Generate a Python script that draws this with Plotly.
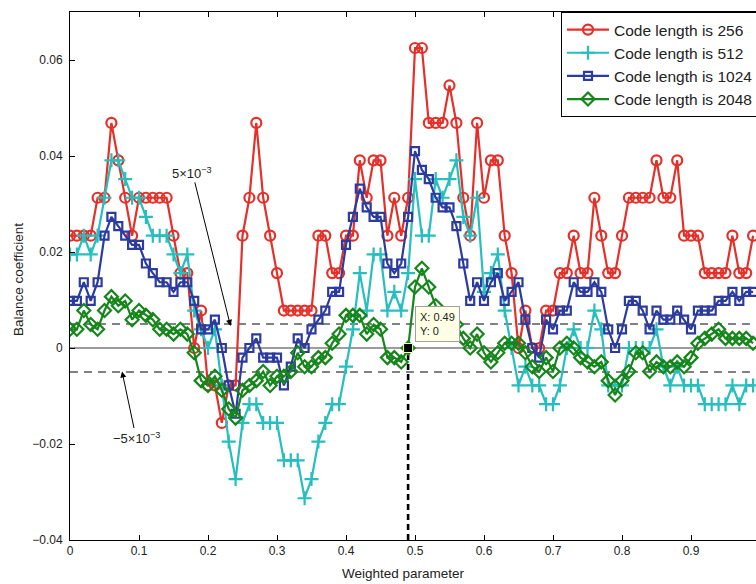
import plotly.graph_objects as go

# ---------------- data ----------------
x_values = [round(i * 0.01, 2) for i in range(100)]

code_256 = [
    0.0234, 0.0234, 0.0234, 0.0234, 0.0313, 0.0313, 0.0469, 0.0391, 0.0313, 0.0234,
    0.0313, 0.0313, 0.0313, 0.0313, 0.0313, 0.0234, 0.0156, 0.0156, 0, 0.0078,
    -0.0078, -0.0078, -0.0156, -0.0078, -0.0078, 0.0234, 0.0313, 0.0469, 0.0313, 0.0234,
    0.0156, 0.0078, 0.0078, 0.0078, 0.0078, 0.0078, 0.0234, 0.0234, 0.0156, 0.0156,
    0.0234, 0.0234, 0.0391, 0.0313, 0.0391, 0.0391, 0.0234, 0.0313, 0.0234, 0.0313,
    0.0625, 0.0625, 0.0469, 0.0469, 0.0469, 0.0547, 0.0469, 0.0313, 0.0234, 0.0469,
    0.0313, 0.0391, 0.0391, 0.0234, 0.0156, 0, 0.0078, 0, 0, 0.0078,
    0.0078, 0.0156, 0.0156, 0.0234, 0.0156, 0.0156, 0.0313, 0.0234, 0.0156, 0.0156,
    0.0234, 0.0313, 0.0313, 0.0313, 0.0313, 0.0391, 0.0313, 0.0313, 0.0391, 0.0234,
    0.0234, 0.0234, 0.0156, 0.0156, 0.0156, 0.0156, 0.0234, 0.0156, 0.0156, 0.0234,
]

code_512 = [
    0.0195, 0.0195, 0.0234, 0.0195, 0.0234, 0.0313, 0.0391, 0.0391, 0.0352, 0.0313,
    0.0313, 0.0273, 0.0234, 0.0234, 0.0234, 0.0195, 0.0156, 0.0195, 0.0078, 0.0039,
    0, 0.0039, -0.0078, -0.0195, -0.0273, -0.0156, -0.0117, -0.0117, -0.0156, -0.0156,
    -0.0156, -0.0234, -0.0234, -0.0234, -0.0313, -0.0273, -0.0195, -0.0156, -0.0117, -0.0117,
    -0.0039, 0.0039, 0.0156, 0.0078, 0.0195, 0.0195, 0.0078, 0.0117, 0.0078, 0.0156,
    0.0352, 0.0234, 0.0234, 0.0352, 0.0313, 0.0352, 0.0391, 0.0273, 0.0234, 0.0313,
    0.0117, 0.0156, 0.0195, 0.0078, 0, -0.0078, -0.0039, -0.0078, -0.0078, -0.0117,
    -0.0117, -0.0078, 0, 0.0039, 0, 0, 0.0078, 0.0039, -0.0078, -0.0078,
    -0.0078, 0, 0, 0, 0, 0.0039, -0.0039, -0.0078, -0.0039, -0.0078,
    -0.0078, -0.0078, -0.0117, -0.0117, -0.0117, -0.0117, -0.0078, -0.0117, -0.0078, -0.0078,
]

code_1024 = [
    0.0098, 0.0098, 0.0137, 0.0098, 0.0137, 0.0234, 0.0273, 0.0254, 0.0234, 0.0215,
    0.0215, 0.0176, 0.0156, 0.0137, 0.0137, 0.0117, 0.0137, 0.0137, 0.0098, 0.0039,
    0.0039, 0.0059, 0, -0.0078, -0.0137, -0.0020, 0, 0.0020, -0.0020, -0.0020,
    -0.0020, -0.0078, -0.0039, 0.0020, 0, 0.0039, 0.0059, 0.0078, 0.0117, 0.0117,
    0.0215, 0.0273, 0.0332, 0.0293, 0.0273, 0.0273, 0.0176, 0.0156, 0.0176, 0.0273,
    0.0410, 0.0371, 0.0352, 0.0313, 0.0293, 0.0293, 0.0254, 0.0176, 0.0098, 0.0137,
    0.0098, 0.0137, 0.0156, 0.0098, 0.0117, 0.0137, 0.0059, 0, -0.0020, 0.0059,
    0.0039, 0.0078, 0.0078, 0.0137, 0.0117, 0.0117, 0.0137, 0.0117, 0.0039, 0,
    0.0039, 0.0098, 0.0098, 0.0078, 0.0039, 0.0078, 0.0059, 0.0059, 0.0078, 0.0059,
    0.0039, 0.0078, 0.0078, 0.0078, 0.0098, 0.0098, 0.0117, 0.0098, 0.0117, 0.0117,
]

code_2048 = [
    0.0039, 0.0039, 0.0078, 0.0049, 0.0039, 0.0078, 0.0107, 0.0088, 0.0098, 0.0059,
    0.0078, 0.0068, 0.0059, 0.0039, 0.0039, 0.0029, 0.0039, 0.0029, -0.0010, -0.0068,
    -0.0078, -0.0059, -0.0088, -0.0127, -0.0146, -0.0088, -0.0078, -0.0068, -0.0049, -0.0078,
    -0.0059, -0.0059, -0.0049, -0.0010, -0.0039, -0.0039, -0.0020, -0.0020, 0.0010, 0.0029,
    0.0068, 0.0068, 0.0068, 0.0029, 0.0049, 0.0039, -0.0020, -0.0020, -0.0029, 0,
    0.0127, 0.0166, 0.0127, 0.0088, 0.0059, 0.0029, 0.0049, 0.0020, 0, 0.0029,
    -0.0010, -0.0029, -0.0010, 0.0010, 0.0010, 0.0010, -0.0010, -0.0039, -0.0049, -0.0020,
    -0.0049, 0, 0.0010, 0, -0.0020, -0.0029, -0.0039, -0.0029, -0.0068, -0.0098,
    -0.0068, -0.0049, -0.0010, -0.0010, -0.0049, -0.0029, -0.0039, -0.0039, -0.0029, -0.0039,
    -0.0020, 0.0010, 0.0020, 0.0029, 0.0039, 0.0020, 0.0020, 0.0020, 0.0020, 0.0010,
]

series_names = ["Code length is 256", "Code length is 512",
                "Code length is 1024", "Code length is 2048"]

x_tick_vals = [0, 0.1, 0.2, 0.3, 0.4, 0.5, 0.6, 0.7, 0.8, 0.9]
x_tick_text = ["0", "0.1", "0.2", "0.3", "0.4", "0.5", "0.6", "0.7", "0.8", "0.9"]
y_tick_vals = [-0.04, -0.02, 0, 0.02, 0.04, 0.06]
y_tick_text = ["\u22120.04", "\u22120.02", "0", "0.02", "0.04", "0.06"]

threshold = 0.005
datatip_x = [0.49]
datatip_y = [0]

# ---------------- figure ----------------
FONT = "Liberation Sans, Arial, Helvetica, sans-serif"
X_MAX = 0.9942
Y_MIN, Y_MAX = -0.04, 0.07

styles = [
    dict(color="#E5302A", symbol="circle-open", size=10),
    dict(color="#26BEBE", symbol="cross-thin-open", size=10),
    dict(color="#2B3B9E", symbol="square-open", size=8),
    dict(color="#15861A", symbol="diamond-open", size=10),
]

fig = go.Figure()
for name, ys, st in zip(series_names, [code_256, code_512, code_1024, code_2048], styles):
    fig.add_trace(go.Scatter(
        x=x_values, y=ys, mode="lines+markers", name=name,
        line=dict(color=st["color"], width=2.2),
        marker=dict(symbol=st["symbol"], size=st["size"], color=st["color"],
                    line=dict(color=st["color"], width=2.2)),
    ))

# data tip marker
fig.add_trace(go.Scatter(
    x=datatip_x, y=datatip_y, mode="markers", showlegend=False,
    marker=dict(symbol="square", size=9, color="black",
                line=dict(color="#FFFFCC", width=1)),
    hoverinfo="skip",
))

shapes = [
    dict(type="line", xref="x", yref="y", x0=0, x1=X_MAX, y0=threshold, y1=threshold,
         line=dict(color="#5A5A5A", width=1.3, dash="8px,6px"), layer="below"),
    dict(type="line", xref="x", yref="y", x0=0, x1=X_MAX, y0=-threshold, y1=-threshold,
         line=dict(color="#5A5A5A", width=1.3, dash="8px,6px"), layer="below"),
    dict(type="line", xref="x", yref="y", x0=0, x1=X_MAX, y0=0, y1=0,
         line=dict(color="#3A3A3A", width=1.2), layer="below"),
    dict(type="line", xref="x", yref="y", x0=datatip_x[0], x1=datatip_x[0],
         y0=Y_MIN, y1=datatip_y[0],
         line=dict(color="black", width=2.6, dash="6px,4px"), layer="below"),
]

annotations = [
    # 5x10^-3 arrow
    dict(x=0.2326, y=0.0046, xref="x", yref="y", text="5\u00d710<sup>\u22123</sup>",
         showarrow=True, arrowhead=2, arrowsize=1.2, arrowwidth=1, arrowcolor="black",
         ax=-38, ay=-153, standoff=0, font=dict(size=13, color="#222", family=FONT)),
    # -5x10^-3 arrow
    dict(x=0.0754, y=-0.0049, xref="x", yref="y", text="\u22125\u00d710<sup>\u22123</sup>",
         showarrow=True, arrowhead=2, arrowsize=1.2, arrowwidth=1, arrowcolor="black",
         ax=14, ay=66, standoff=0, font=dict(size=13, color="#222", family=FONT)),
    # data tip box
    dict(x=0.4993, y=0.0087, xref="x", yref="y", xanchor="left", yanchor="top",
         text="X: 0.49<br>Y: 0", showarrow=False, align="left",
         bgcolor="#FFFFE6", bordercolor="#A0A0A0", borderwidth=1, borderpad=4,
         font=dict(size=11, color="#222", family=FONT)),
    # axis titles
    dict(x=(18 - 70) / 686, y=(540 - 280) / 528, xref="paper", yref="paper",
         xanchor="center", yanchor="middle",
         text="Balance coefficient", textangle=-90, showarrow=False,
         font=dict(size=13.5, color="#222", family=FONT)),
    dict(x=(403 - 70) / 686, y=(540 - 573) / 528, xref="paper", yref="paper",
         xanchor="center", yanchor="middle",
         text="Weighted parameter", showarrow=False,
         font=dict(size=13.5, color="#222", family=FONT)),
]

fig.update_layout(
    width=756, height=584,
    margin=dict(l=70, r=0, t=12, b=44, autoexpand=False),
    paper_bgcolor="white", plot_bgcolor="white",
    font=dict(family=FONT, color="#222"),
    showlegend=True,
    legend=dict(x=(561 - 70) / 686, y=1, xanchor="left", yanchor="top",
                bgcolor="white", bordercolor="black", borderwidth=1,
                font=dict(size=15.5, color="#222", family=FONT),
                itemwidth=42, tracegroupgap=0),
    shapes=shapes,
    annotations=annotations,
    xaxis=dict(range=[0, X_MAX], tickvals=x_tick_vals, ticktext=x_tick_text,
               ticks="inside", ticklen=5, tickcolor="black", showline=True,
               linecolor="black", linewidth=1, mirror="ticks", showgrid=False,
               zeroline=False, tickfont=dict(size=12, color="#222")),
    yaxis=dict(range=[Y_MIN, Y_MAX], tickvals=y_tick_vals, ticktext=y_tick_text,
               ticks="inside", ticklen=5, tickcolor="black", showline=True,
               linecolor="black", linewidth=1, mirror=False, showgrid=False,
               zeroline=False, tickfont=dict(size=12, color="#222"),
               ticklabelstandoff=4),
)

fig.write_html("out.html")
